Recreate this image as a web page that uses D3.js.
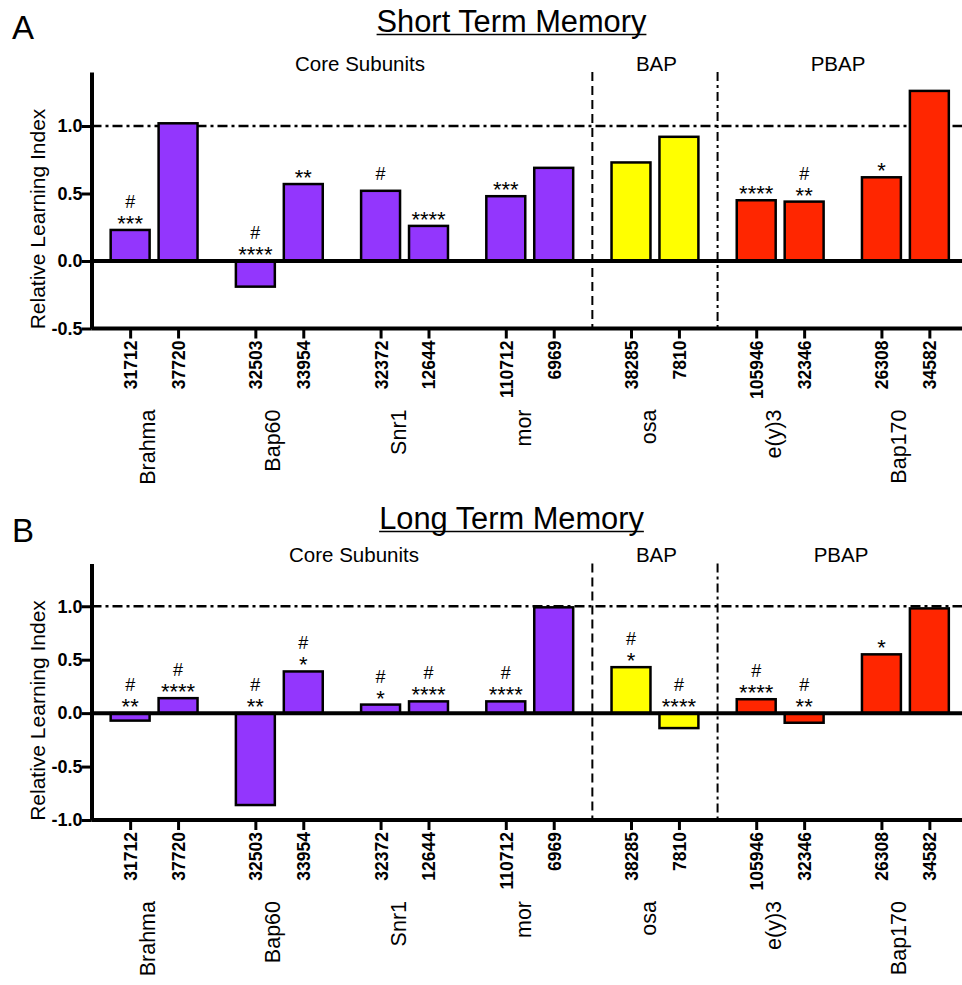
<!DOCTYPE html>
<html>
<head>
<meta charset="utf-8">
<script src="https://cdn.jsdelivr.net/npm/d3@7"></script>
<style>
  body { margin: 0; background: #fff; }
  svg { display: block; font-family: "Liberation Sans", Arial, sans-serif; }
</style>
</head>
<body>
<div id="vis-container"></div>
<script>
// data
let genes = ["Brahma", "Bap60", "Snr1", "mor", "osa", "e(y)3", "Bap170"];
let lines = ["31712", "37720", "32503", "33954", "32372", "12644", "110712", "6969",
             "38285", "7810", "105946", "32346", "26308", "34582"];
let geneColors = ["#9336fd", "#9336fd", "#9336fd", "#9336fd", "#ffff00", "#ff2600", "#ff2600"];

let stmValues = [0.23, 1.02, -0.19, 0.57, 0.52, 0.26, 0.48, 0.69, 0.73, 0.92, 0.45, 0.44, 0.62, 1.26];
let stmHash   = [1, 0, 1, 0, 1, 0, 0, 0, 0, 0, 0, 1, 0, 0];
let stmStars  = ["***", "", "****", "**", "", "****", "***", "", "", "", "****", "**", "*", ""];

let ltmValues = [-0.07, 0.14, -0.86, 0.39, 0.08, 0.11, 0.11, 0.99, 0.43, -0.14, 0.13, -0.09, 0.55, 0.98];
let ltmHash   = [1, 1, 1, 1, 1, 1, 1, 0, 1, 1, 1, 1, 0, 0];
let ltmStars  = ["**", "****", "**", "*", "*", "****", "****", "", "*", "****", "****", "**", "*", ""];

let yTicksA = [-0.5, 0, 0.5, 1.0];
let yTicksB = [-1.0, -0.5, 0, 0.5, 1.0];

let W = 962, H = 985;
let svg = d3.select("#vis-container")
  .append("svg")
  .attr("width", W)
  .attr("height", H);

let left = 91.5, right = 968;

let x0 = d3.scaleBand()
  .domain(genes)
  .range([left, right])
  .padding(0);

let x1 = d3.scaleBand()
  .domain([0, 1])
  .range([0, x0.bandwidth()])
  .paddingInner(0.1875)
  .paddingOuter(0.4);

// centre of each bar, one per line
let xLine = d3.scaleOrdinal()
  .domain(lines)
  .range(lines.map((l, i) => x0(genes[Math.floor(i / 2)]) + x1(i % 2) + x1.bandwidth() / 2));

function fmt(d) { return d3.format(".1f")(d).replace("\u2212", "-"); }

function panel(opt) {
  let g = svg.append("g").attr("transform", `translate(0, ${opt.dy})`);
  let top = 72, bottom = 328.5;

  let y = d3.scaleLinear()
    .domain(opt.domain)
    .range([bottom, top]);

  let data = lines.map((l, i) => ({
    line: l, gene: genes[Math.floor(i / 2)], color: geneColors[Math.floor(i / 2)],
    v: opt.values[i], hash: opt.hash[i], stars: opt.stars[i]
  }));

  // panel letter and title
  svg.append("text")
    .attr("x", 12).attr("y", opt.letterY)
    .attr("font-size", "33px")
    .text(opt.letter);

  let title = svg.append("text")
    .attr("x", 511.5).attr("y", opt.titleY)
    .attr("text-anchor", "middle")
    .attr("font-size", "30.8px")
    .text(opt.title);
  let tw = title.node().getComputedTextLength();
  svg.append("line")
    .attr("x1", 511.5 - tw / 2).attr("x2", 511.5 + tw / 2)
    .attr("y1", opt.titleY + 2.5).attr("y2", opt.titleY + 2.5)
    .attr("stroke", "black").attr("stroke-width", 1.5);

  // complex labels
  let labelY = top - 1.5;
  g.append("text").attr("x", opt.coreX).attr("y", labelY)
    .attr("text-anchor", "middle").attr("font-size", "20.5px").text("Core Subunits");
  g.append("text").attr("x", x0("osa") + x0.bandwidth() / 2 + 1.5).attr("y", labelY)
    .attr("text-anchor", "middle").attr("font-size", "20.5px").text("BAP");
  g.append("text").attr("x", opt.pbapX).attr("y", labelY)
    .attr("text-anchor", "middle").attr("font-size", "20.5px").text("PBAP");

  // reference line at 1.0
  g.append("line")
    .attr("x1", left).attr("x2", W)
    .attr("y1", y(1)).attr("y2", y(1))
    .attr("stroke", "black").attr("stroke-width", 2.5)
    .attr("stroke-dasharray", "10,4,3,4");

  // dividers between complexes
  g.append("line")
    .attr("x1", x0("osa")).attr("x2", x0("osa"))
    .attr("y1", top).attr("y2", bottom)
    .attr("stroke", "black").attr("stroke-width", 2)
    .attr("stroke-dasharray", "9,5");
  g.append("line")
    .attr("x1", x0("e(y)3")).attr("x2", x0("e(y)3"))
    .attr("y1", top).attr("y2", bottom)
    .attr("stroke", "black").attr("stroke-width", 2)
    .attr("stroke-dasharray", "9,4,3,4");

  // bars
  g.selectAll("rect.bar")
    .data(data)
    .enter()
    .append("rect")
    .attr("class", "bar")
    .attr("x", d => x0(d.gene) + x1(lines.indexOf(d.line) % 2))
    .attr("y", d => y(Math.max(d.v, 0)))
    .attr("width", x1.bandwidth())
    .attr("height", d => Math.abs(y(d.v) - y(0)))
    .attr("fill", d => d.color)
    .attr("stroke", "black")
    .attr("stroke-width", 2.5);

  // zero line and bottom axis line
  g.append("line")
    .attr("x1", left).attr("x2", W)
    .attr("y1", y(0)).attr("y2", y(0))
    .attr("stroke", "black").attr("stroke-width", 4);
  g.append("line")
    .attr("x1", left).attr("x2", W)
    .attr("y1", bottom).attr("y2", bottom)
    .attr("stroke", "black").attr("stroke-width", 4);

  // significance marks
  let ann = g.append("g").attr("text-anchor", "middle");
  data.forEach(d => {
    let cx = xLine(d.line);
    let base = y(Math.max(d.v, 0));
    let hy = base - 10.5;
    if (d.stars) {
      ann.append("text").attr("x", cx).attr("y", base + 1)
        .attr("font-size", "22px").text(d.stars);
      hy = base - 22;
    }
    if (d.hash) {
      ann.append("text").attr("x", cx).attr("y", hy)
        .attr("font-size", "18px").text("#");
    }
  });

  // y axis
  let yAxis = d3.axisLeft(y)
    .tickValues(opt.yTicks)
    .tickSize(10)
    .tickSizeOuter(0)
    .tickFormat(fmt);
  let ya = g.append("g")
    .attr("transform", `translate(${left}, 0)`)
    .call(yAxis);
  ya.select(".domain").attr("stroke-width", 4);
  ya.selectAll(".tick line").attr("stroke-width", 3);
  ya.selectAll(".tick text")
    .attr("x", -9)
    .attr("font-size", "18px")
    .attr("font-weight", "bold")
    .attr("font-family", "Liberation Sans, Arial, sans-serif")
    .attr("fill", "black");

  // y axis label
  g.append("text")
    .attr("transform", "rotate(-90)")
    .attr("x", -219)
    .attr("y", 45)
    .attr("text-anchor", "middle")
    .attr("font-size", "21px")
    .text("Relative Learning Index");

  // x axis, ticks at each bar
  let xAxis = d3.axisBottom(xLine).tickSize(10).tickSizeOuter(0);
  let xa = g.append("g")
    .attr("transform", `translate(0, ${bottom})`)
    .call(xAxis);
  xa.select(".domain").remove();
  xa.selectAll(".tick line").attr("stroke-width", 3);
  xa.selectAll(".tick text")
    .attr("transform", "rotate(-90)")
    .attr("x", -12)
    .attr("y", 0)
    .attr("dy", "0.37em")
    .attr("text-anchor", "end")
    .attr("font-size", "17.5px")
    .attr("font-weight", "bold")
    .attr("font-family", "Liberation Sans, Arial, sans-serif")
    .attr("fill", "black");

  // gene names
  g.selectAll("text.gene")
    .data(genes)
    .enter()
    .append("text")
    .attr("class", "gene")
    .attr("transform", d => `translate(${x0(d) + x0.bandwidth() / 2 + 1}, ${bottom + 81}) rotate(-90)`)
    .attr("text-anchor", "end")
    .attr("font-size", "21.5px")
    .text(d => d);
}

panel({
  dy: 0, domain: [-0.5, 1.4], values: stmValues, hash: stmHash, stars: stmStars,
  yTicks: yTicksA, letter: "A", letterY: 39, title: "Short Term Memory", titleY: 32,
  coreX: 360, pbapX: 838
});

panel({
  dy: 491.5, domain: [-1.0, 1.4], values: ltmValues, hash: ltmHash, stars: ltmStars,
  yTicks: yTicksB, letter: "B", letterY: 542, title: "Long Term Memory", titleY: 529,
  coreX: 354, pbapX: 841
});
</script>
</body>
</html>
